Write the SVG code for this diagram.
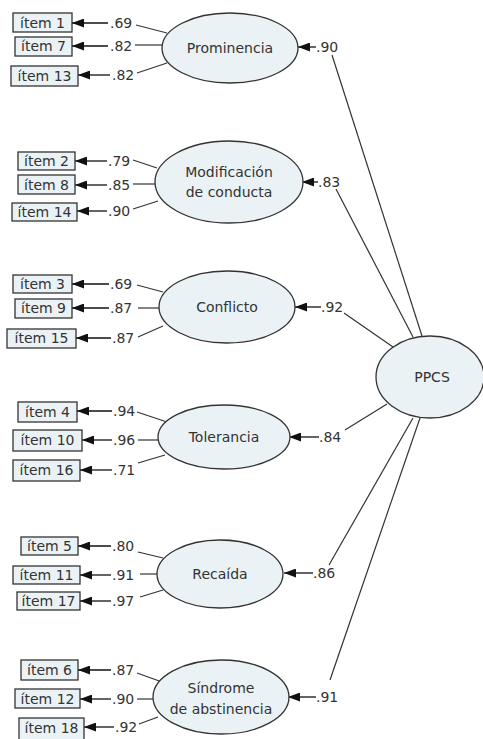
<svg xmlns="http://www.w3.org/2000/svg" width="483" height="739" viewBox="0 0 483 739">
<defs>
<marker id="ah" markerUnits="userSpaceOnUse" markerWidth="12" markerHeight="9" refX="12" refY="4.5" orient="auto">
<path d="M0,0 L12,4.5 L0,9 z" fill="#111"/>
</marker>
<style>
text{font-family:"DejaVu Sans","Verdana",sans-serif;font-size:14px;fill:#333}
.box{fill:#eaf2f5;stroke:#333;stroke-width:1.3}
.ell{fill:#eaf2f5;stroke:#333;stroke-width:1.3}
.c{text-anchor:middle}
.ln{stroke:#333;stroke-width:1.2;fill:none}
.ar{stroke:#111;stroke-width:1.3;fill:none;marker-end:url(#ah)}
</style>
</defs>
<rect width="483" height="739" fill="#fff"/>

<g id="connectors">
<!-- Prominencia items -->
<line class="ar" x1="108" y1="23" x2="72" y2="23"/><line class="ln" x1="136" y1="25" x2="167" y2="33"/>
<line class="ar" x1="108" y1="46" x2="72" y2="46"/><line class="ln" x1="135" y1="45" x2="162" y2="45"/>
<line class="ar" x1="110" y1="75" x2="78" y2="75"/><line class="ln" x1="137" y1="73" x2="167" y2="63"/>
<!-- Modificacion items -->
<line class="ar" x1="107" y1="161" x2="75" y2="161"/><line class="ln" x1="133" y1="160" x2="157" y2="168"/>
<line class="ar" x1="107" y1="185" x2="75" y2="185"/><line class="ln" x1="133" y1="184" x2="155" y2="184"/>
<line class="ar" x1="107" y1="211" x2="77" y2="211"/><line class="ln" x1="133" y1="209" x2="158" y2="201"/>
<!-- Conflicto items -->
<line class="ar" x1="109" y1="284" x2="72" y2="284"/><line class="ln" x1="137" y1="285" x2="163" y2="292"/>
<line class="ar" x1="109" y1="308" x2="72" y2="308"/><line class="ln" x1="138" y1="308" x2="159" y2="308"/>
<line class="ar" x1="111" y1="338" x2="76" y2="338"/><line class="ln" x1="138" y1="337" x2="163" y2="326"/>
<!-- Tolerancia items -->
<line class="ar" x1="112" y1="411" x2="77" y2="411"/><line class="ln" x1="137" y1="412" x2="167" y2="422"/>
<line class="ar" x1="112" y1="440" x2="82" y2="440"/><line class="ln" x1="138" y1="440" x2="158" y2="440"/>
<line class="ar" x1="112" y1="470" x2="80" y2="470"/><line class="ln" x1="138" y1="463" x2="165" y2="455"/>
<!-- Recaida items -->
<line class="ar" x1="111" y1="546" x2="78" y2="546"/><line class="ln" x1="138" y1="552" x2="163" y2="558"/>
<line class="ar" x1="111" y1="575" x2="80" y2="575"/><line class="ln" x1="140" y1="574" x2="158" y2="574"/>
<line class="ar" x1="111" y1="601" x2="80" y2="601"/><line class="ln" x1="140" y1="597" x2="163" y2="590"/>
<!-- Sindrome items -->
<line class="ar" x1="111" y1="670" x2="78" y2="670"/><line class="ln" x1="137" y1="673" x2="162" y2="682"/>
<line class="ar" x1="111" y1="699" x2="80" y2="699"/><line class="ln" x1="137" y1="699" x2="153" y2="699"/>
<line class="ar" x1="114" y1="727" x2="84" y2="727"/><line class="ln" x1="139" y1="724" x2="158" y2="717"/>
<!-- PPCS to factors -->
<line class="ar" x1="316" y1="47" x2="298" y2="47"/><line class="ln" x1="332" y1="55" x2="422" y2="336"/>
<line class="ar" x1="318" y1="182" x2="302" y2="182"/><line class="ln" x1="336" y1="189" x2="413" y2="337"/>
<line class="ar" x1="321" y1="307" x2="295" y2="307"/><line class="ln" x1="344" y1="313" x2="393" y2="347"/>
<line class="ar" x1="319" y1="437" x2="289" y2="437"/><line class="ln" x1="345" y1="430" x2="387" y2="404"/>
<line class="ar" x1="313" y1="573" x2="284" y2="573"/><line class="ln" x1="329" y1="565" x2="413" y2="418"/>
<line class="ar" x1="316" y1="697" x2="288" y2="697"/><line class="ln" x1="330" y1="680" x2="420" y2="418"/>
</g>

<g id="labels">
<text x="110" y="28">.69</text><text x="110" y="51">.82</text><text x="112" y="80">.82</text>
<text x="108" y="166">.79</text><text x="108" y="190">.85</text><text x="108" y="216">.90</text>
<text x="110" y="289">.69</text><text x="110" y="313">.87</text><text x="112" y="343">.87</text>
<text x="113" y="416">.94</text><text x="113" y="445">.96</text><text x="113" y="475">.71</text>
<text x="112" y="551">.80</text><text x="112" y="580">.91</text><text x="112" y="606">.97</text>
<text x="112" y="675">.87</text><text x="112" y="704">.90</text><text x="115" y="732">.92</text>
<text x="316" y="52">.90</text>
<text x="318" y="187">.83</text>
<text x="321" y="312">.92</text>
<text x="319" y="442">.84</text>
<text x="313" y="578">.86</text>
<text x="316" y="702">.91</text>
</g>

<g id="item1"><rect class="box" x="13" y="13" width="59" height="19"/><text class="c" x="42.5" y="28">ítem 1</text></g>
<g id="item7"><rect class="box" x="15" y="37" width="57" height="19"/><text class="c" x="43.5" y="51">ítem 7</text></g>
<g id="item13"><rect class="box" x="11" y="66" width="67" height="20"/><text class="c" x="44.5" y="81">ítem 13</text></g>

<g id="item2"><rect class="box" x="18" y="152" width="57" height="18"/><text class="c" x="46.5" y="166">ítem 2</text></g>
<g id="item8"><rect class="box" x="18" y="175" width="57" height="19"/><text class="c" x="46.5" y="190">ítem 8</text></g>
<g id="item14"><rect class="box" x="12" y="203" width="65" height="18"/><text class="c" x="44.5" y="217">ítem 14</text></g>

<g id="item3"><rect class="box" x="13" y="275" width="59" height="18"/><text class="c" x="42.5" y="289">ítem 3</text></g>
<g id="item9"><rect class="box" x="15" y="299" width="57" height="19"/><text class="c" x="43.5" y="313">ítem 9</text></g>
<g id="item15"><rect class="box" x="7" y="329" width="69" height="19"/><text class="c" x="41.5" y="343">ítem 15</text></g>

<g id="item4"><rect class="box" x="18" y="402" width="59" height="20"/><text class="c" x="47.5" y="417">ítem 4</text></g>
<g id="item10"><rect class="box" x="13" y="430" width="69" height="21"/><text class="c" x="47.5" y="445">ítem 10</text></g>
<g id="item16"><rect class="box" x="13" y="460" width="67" height="21"/><text class="c" x="46.5" y="475">ítem 16</text></g>

<g id="item5"><rect class="box" x="21" y="537" width="57" height="18"/><text class="c" x="49.5" y="551">ítem 5</text></g>
<g id="item11"><rect class="box" x="13" y="566" width="67" height="18"/><text class="c" x="46.5" y="580">ítem 11</text></g>
<g id="item17"><rect class="box" x="17" y="592" width="63" height="18"/><text class="c" x="48.5" y="606">ítem 17</text></g>

<g id="item6"><rect class="box" x="21" y="660" width="57" height="20"/><text class="c" x="49.5" y="675">ítem 6</text></g>
<g id="item12"><rect class="box" x="15" y="689" width="65" height="19"/><text class="c" x="47.5" y="704">ítem 12</text></g>
<g id="item18"><rect class="box" x="19" y="718" width="65" height="22"/><text class="c" x="51.5" y="733">ítem 18</text></g>

<g id="prominencia"><ellipse class="ell" cx="230" cy="48" rx="68" ry="35"/><text class="c" x="230" y="53">Prominencia</text></g>
<g id="modificacion"><ellipse class="ell" cx="229" cy="182" rx="74" ry="41"/><text class="c" x="229" y="177">Modificación</text><text class="c" x="229" y="197">de conducta</text></g>
<g id="conflicto"><ellipse class="ell" cx="227" cy="307" rx="68" ry="36"/><text class="c" x="227" y="312">Conflicto</text></g>
<g id="tolerancia"><ellipse class="ell" cx="224" cy="437" rx="66" ry="32"/><text class="c" x="224" y="442">Tolerancia</text></g>
<g id="recaida"><ellipse class="ell" cx="220" cy="574" rx="63" ry="34"/><text class="c" x="220" y="579">Recaída</text></g>
<g id="sindrome"><ellipse class="ell" cx="221" cy="697" rx="68" ry="37"/><text class="c" x="221" y="693">Síndrome</text><text class="c" x="221" y="714">de abstinencia</text></g>
<g id="ppcs"><ellipse class="ell" cx="430" cy="377" rx="54" ry="41"/><text class="c" x="432" y="382">PPCS</text></g>
</svg>
